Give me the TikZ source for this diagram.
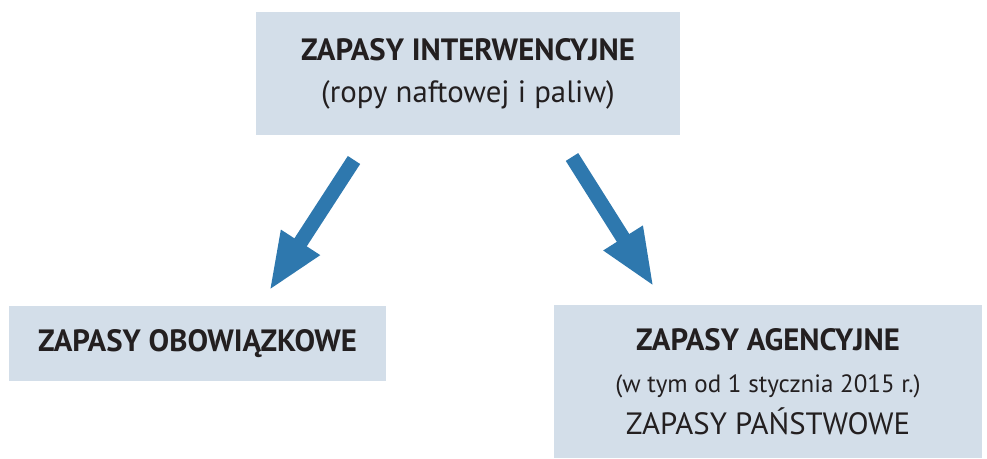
\documentclass[tikz,border=0pt]{standalone}
\usepackage{fontspec}
\setmainfont{PT Sans}
\usetikzlibrary{arrows.meta}
\definecolor{boxblue}{HTML}{D3DEE9}
\definecolor{arrowblue}{HTML}{2E78AE}
\definecolor{ink}{HTML}{231F20}

\begin{document}
\begin{tikzpicture}[x=0.5pt, y=-0.5pt,
    box/.style={fill=boxblue, inner sep=0pt, align=center, text=ink, font=\fontsize{15.4}{21}\selectfont},
    bigarrow/.style={draw=arrowblue, line width=7.35pt, -{Triangle[length=29pt, width=21pt]}}]
            \useasboundingbox (0,0) rectangle (987,459);
            \node[box, minimum width=212pt, minimum height=61.5pt] (zapint) at (468,73.5) {\textbf{ZAPASY INTERWENCYJNE}\\(ropy naftowej i paliw)};
            \node[box, minimum width=188.5pt, minimum height=37.5pt] (zapobo) at (197.5,343.5) {\textbf{ZAPASY OBOWIĄZKOWE}};
            \node[box, minimum width=214pt, minimum height=76.5pt] (zapage) at (768,381.5) {\textbf{ZAPASY AGENCYJNE}\\{\fontsize{12.5}{20}\selectfont (w tym od 1 stycznia 2015 r.)}\\ZAPASY PAŃSTWOWE};
            \coordinate (L1) at (354,160); \coordinate (L2) at (269,291);
            \coordinate (R1) at (572,157); \coordinate (R2) at (654,287);
            \draw[bigarrow] (L1) -- (L2);
            \draw[bigarrow] (R1) -- (R2);
        \end{tikzpicture}
\end{document}
